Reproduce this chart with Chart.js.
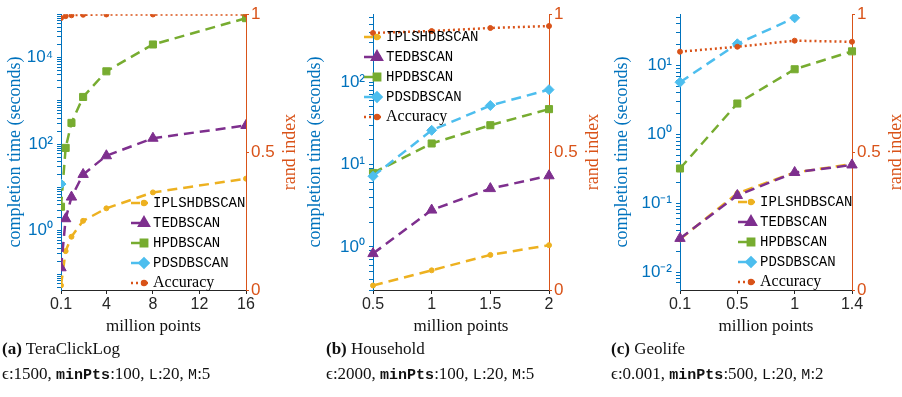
<!DOCTYPE html>
<html>
<head>
<meta charset="utf-8">
<script src="https://cdn.jsdelivr.net/npm/chart.js@4.4.1/dist/chart.umd.min.js"></script>
<style>
  body { margin: 0; background: #fff; width: 902px; height: 397px; overflow: hidden; position: relative;
         font-family: "Liberation Serif", "DejaVu Serif", serif; }
  canvas { position: absolute; top: 0; }
  .cap { position: absolute; font-size: 17px; color: #111; white-space: nowrap; }
  .tt { font-family: "Liberation Mono", "DejaVu Sans Mono", monospace; font-size: 15px; }
</style>
</head>
<body>
<canvas id="chartA" width="300" height="340" style="left:0px"></canvas>
<canvas id="chartB" width="300" height="340" style="left:300px"></canvas>
<canvas id="chartC" width="302" height="340" style="left:600px"></canvas>

<div class="cap" style="left:2px;top:339px"><b>(a)</b> TeraClickLog</div>
<div class="cap" style="left:2px;top:364px">ϵ:1500, <span class="tt"><b>minPts</b></span>:100, <span class="tt">L</span>:20, <span class="tt">M</span>:5</div>
<div class="cap" style="left:326px;top:339px"><b>(b)</b> Household</div>
<div class="cap" style="left:326px;top:364px">ϵ:2000, <span class="tt"><b>minPts</b></span>:100, <span class="tt">L</span>:20, <span class="tt">M</span>:5</div>
<div class="cap" style="left:611px;top:339px"><b>(c)</b> Geolife</div>
<div class="cap" style="left:611px;top:364px">ϵ:0.001, <span class="tt"><b>minPts</b></span>:500, <span class="tt">L</span>:20, <span class="tt">M</span>:2</div>

<script>
// series shared by all three panels
const seriesNames = ['IPLSHDBSCAN', 'TEDBSCAN', 'HPDBSCAN', 'PDSDBSCAN', 'Accuracy'];
const seriesColors = ['#EDB120', '#7E2F8E', '#77AC30', '#4DBEEE', '#D95319'];

// (a) TeraClickLog
const xA = [0.1, 0.5, 1, 2, 4, 8, 16];
const xTicksA = [0.1, 4, 8, 12, 16];
const iplsA = [0.055, 0.34, 0.73, 1.7, 3.3, 7.7, 16];
const teA = [0.14, 1.9, 6, 20, 54, 137, 270];
const hpA = [3.6, 82, 310, 1230, 4800, 20000, 81000];
const pdA = [12, null, null, null, null, null, null];
const accA = [0.986, 0.993, 0.996, 0.998, 0.999, 0.999, 0.999];
const yExpLabelsA = [0, 2, 4];

// (b) Household
const xB = ['0.5', '1', '1.5', '2'];
const iplsB = [0.34, 0.52, 0.8, 1.05];
const teB = [0.83, 2.8, 5.1, 7.3];
const hpB = [7.9, 18, 30, 47];
const pdB = [7.2, 26, 52, 81];
const accB = [0.932, 0.939, 0.95, 0.957];
const yExpLabelsB = [0, 1, 2];

// (c) Geolife
const xC = ['0.1', '0.5', '1', '1.4'];
const iplsC = [0.03, 0.14, 0.28, 0.37];
const teC = [0.031, 0.13, 0.28, 0.36];
const hpC = [0.32, 2.8, 8.8, 16];
const pdC = [5.7, 20.6, 49, null];
const accC = [0.864, 0.882, 0.904, 0.9];
const yExpLabelsC = [-2, -1, 0, 1];

const tickFont = '"Liberation Sans Narrow", "Liberation Sans", Arial, sans-serif';
const serifFont = '"Liberation Serif", "DejaVu Serif", serif';
const monoFont = '"Liberation Mono", "DejaVu Sans Mono", monospace';
const leftColor = '#0072BD';
const rightColor = '#D95319';

const styles = [
  { pointStyle: 'circle', radius: 2.5, dash: [10, 6] },
  { pointStyle: 'triangle', radius: 6, dash: [10, 6] },
  { pointStyle: 'rect', radius: 5, dash: [10, 6] },
  { pointStyle: 'rectRot', radius: 5, dash: [10, 6] },
  { pointStyle: 'circle', radius: 2.5, dash: [2, 3] }
];

const supMap = { '-': '⁻', '0': '⁰', '1': '¹', '2': '²', '3': '³', '4': '⁴', '5': '⁵' };
function powLabel(v, exps) {
  const l = Math.log10(v);
  const e = Math.round(l);
  if (Math.abs(l - e) > 1e-6 || !exps.includes(e)) return '';
  return '10' + String(e).split('').map(c => supMap[c]).join('');
}

// right axis title + legend drawn inside the plot
const overlay = {
  id: 'overlay',
  afterDraw(chart, args, opts) {
    const ctx = chart.ctx;
    const area = chart.chartArea;
    ctx.save();
    ctx.translate(area.right + 44, (area.top + area.bottom) / 2);
    ctx.rotate(-Math.PI / 2);
    ctx.fillStyle = rightColor;
    ctx.font = '18px ' + serifFont;
    ctx.textAlign = 'center';
    ctx.textBaseline = 'middle';
    ctx.fillText('rand index', 0, 0);
    ctx.restore();

    chart.data.datasets.forEach((ds, i) => {
      const tx = opts.x;
      const ty = opts.y + i * 20;
      ctx.save();
      ctx.strokeStyle = ds.borderColor;
      ctx.lineWidth = 2.5;
      ctx.setLineDash(i === 4 ? [2, 3] : [9, 4]);
      ctx.beginPath();
      ctx.moveTo(tx - 22, ty);
      ctx.lineTo(tx - 5, ty);
      ctx.stroke();
      ctx.setLineDash([]);
      ctx.fillStyle = ds.borderColor;
      Chart.helpers.drawPoint(ctx, { pointStyle: ds.pointStyle, radius: ds.pointRadius - 0.5, borderWidth: 1 }, tx - 9, ty);
      ctx.fill();
      ctx.fillStyle = '#000';
      ctx.textBaseline = 'middle';
      ctx.font = i === 4 ? '16px ' + serifFont : '14px ' + monoFont;
      ctx.fillText(ds.label, tx, ty);
      ctx.restore();
    });
  }
};

function makePanel(id, p) {
  const values = p.values;
  const datasets = seriesNames.map((name, i) => ({
    label: name,
    data: values[i].map((v, j) => ({ x: p.x[j], y: v })),
    yAxisID: i === 4 ? 'yR' : 'y',
    borderColor: seriesColors[i],
    backgroundColor: seriesColors[i],
    borderWidth: 2.5,
    borderDash: styles[i].dash,
    pointStyle: styles[i].pointStyle,
    pointRadius: styles[i].radius,
    pointBorderWidth: 1,
    tension: 0,
    spanGaps: false,
    order: 5 - i
  }));

  const xScale = {
    type: p.xType,
    min: p.xMin,
    max: p.xMax,
    offset: false,
    border: { color: '#262626', width: 1 },
    grid: { drawOnChartArea: false, tickLength: 4, color: '#262626' },
    ticks: { color: '#262626', font: { family: tickFont, size: 16 }, padding: 1, maxRotation: 0, autoSkip: false },
    title: { display: true, text: 'million points', color: '#111', font: { family: serifFont, size: 17 }, padding: { top: 0, bottom: 3 } },
    afterFit: s => { s.height = 50; }
  };
  if (p.xTicks) {
    xScale.afterBuildTicks = s => { s.ticks = p.xTicks.map(v => ({ value: v })); };
    xScale.ticks.callback = v => String(v);
  }

  return new Chart(document.getElementById(id), {
    type: 'line',
    data: { labels: p.labels, datasets: datasets },
    plugins: [overlay],
    options: {
      responsive: false,
      animation: false,
      layout: { padding: { top: 10, left: 0, right: 0, bottom: 0 } },
      plugins: {
        legend: { display: false },
        tooltip: { enabled: false },
        overlay: { x: p.legendX, y: p.legendY }
      },
      scales: {
        x: xScale,
        y: {
          type: 'logarithmic',
          position: 'left',
          min: p.yMin,
          max: p.yMax,
          border: { color: leftColor, width: 1 },
          grid: { drawOnChartArea: false, tickLength: 4, color: leftColor },
          ticks: {
            color: leftColor,
            font: { family: tickFont, size: 17 },
            padding: 4,
            autoSkip: false,
            callback: v => powLabel(v, p.yExps)
          },
          afterBuildTicks: s => {
            s.ticks = s.ticks.filter(t => {
              const m = t.value / Math.pow(10, Math.floor(Math.log10(t.value) + 1e-9));
              return Math.abs(m - Math.round(m)) < 1e-6;
            });
          },
          title: { display: true, text: 'completion time (seconds)', color: leftColor, font: { family: serifFont, size: 18 }, padding: { top: p.titlePad, bottom: 0 } },
          afterFit: s => { s.width = p.leftW; }
        },
        yR: {
          type: 'linear',
          position: 'right',
          min: 0,
          max: 1,
          border: { color: rightColor, width: 1 },
          grid: { drawOnChartArea: false, tickLength: 3, color: rightColor },
          ticks: { color: rightColor, font: { family: tickFont, size: 17 }, padding: 2, callback: v => String(v) },
          afterBuildTicks: s => { s.ticks = [0, 0.5, 1].map(v => ({ value: v })); },
          afterFit: s => { s.width = p.rightW; }
        }
      }
    }
  });
}

makePanel('chartA', {
  xType: 'linear', x: xA, xMin: 0.1, xMax: 16, xTicks: xTicksA,
  values: [iplsA, teA, hpA, pdA, accA],
  yMin: 0.043, yMax: 100000, yExps: yExpLabelsA,
  leftW: 61, rightW: 54, titlePad: 4, legendX: 153, legendY: 203
});

makePanel('chartB', {
  xType: 'category', labels: xB, x: xB,
  values: [iplsB, teB, hpB, pdB, accB],
  yMin: 0.338, yMax: 667, yExps: yExpLabelsB,
  leftW: 73, rightW: 51, titlePad: 4, legendX: 86, legendY: 37
});

makePanel('chartC', {
  xType: 'category', labels: xC, x: xC,
  values: [iplsC, teC, hpC, pdC, accC],
  yMin: 0.00553, yMax: 55.3, yExps: yExpLabelsC,
  leftW: 80, rightW: 50, titlePad: 11, legendX: 160, legendY: 202
});
</script>
</body>
</html>
